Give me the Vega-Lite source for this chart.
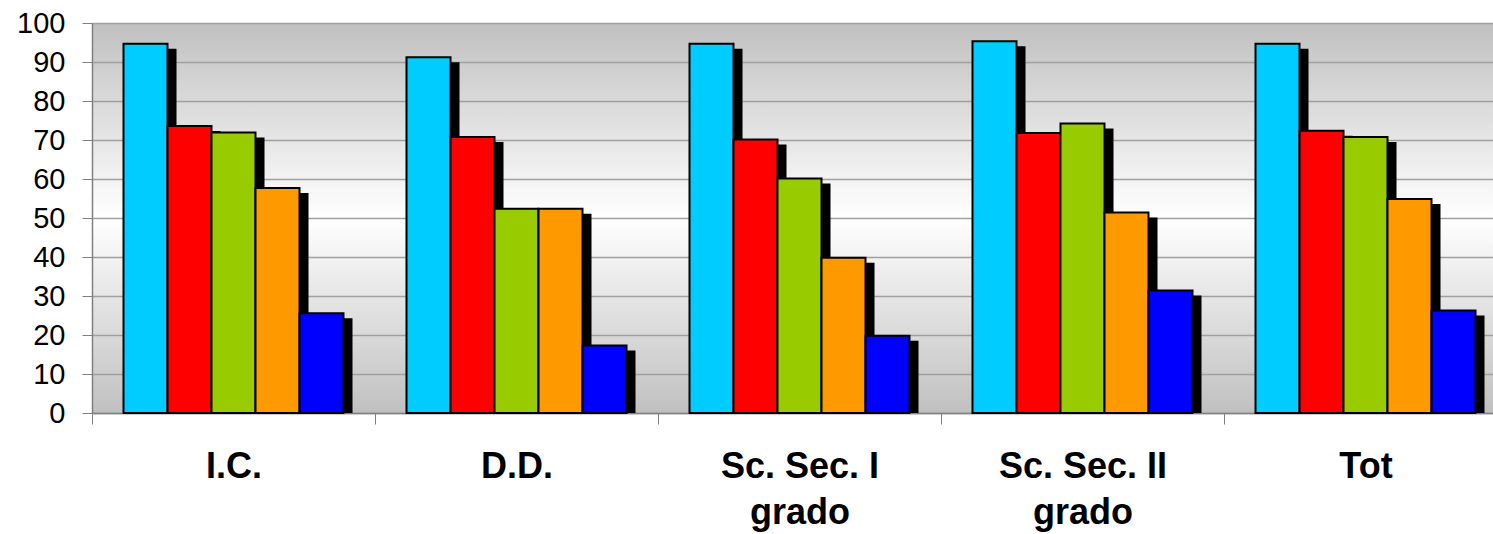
{
  "$schema": "https://vega.github.io/schema/vega-lite/v6.json",
  "autosize": "none",
  "padding": {"left": 92, "top": 23, "right": 0, "bottom": 121},
  "width": 1415,
  "height": 390,
  "background": "white",
  "config": {
    "font": "Liberation Sans",
    "view": {
      "stroke": null,
      "fill": {
        "gradient": "linear",
        "x1": 0, "y1": 0, "x2": 0, "y2": 1,
        "stops": [
          {"offset": 0, "color": "#c0c0c0"},
          {"offset": 0.5, "color": "#ffffff"},
          {"offset": 1, "color": "#c0c0c0"}
        ]
      }
    }
  },
  "data": {
    "values": [
      {"cat": "I.C.", "serie": "S1", "val": 94.7},
      {"cat": "I.C.", "serie": "S2", "val": 73.6},
      {"cat": "I.C.", "serie": "S3", "val": 71.9},
      {"cat": "I.C.", "serie": "S4", "val": 57.7},
      {"cat": "I.C.", "serie": "S5", "val": 25.6},
      {"cat": "D.D.", "serie": "S1", "val": 91.2},
      {"cat": "D.D.", "serie": "S2", "val": 70.8},
      {"cat": "D.D.", "serie": "S3", "val": 52.4},
      {"cat": "D.D.", "serie": "S4", "val": 52.4},
      {"cat": "D.D.", "serie": "S5", "val": 17.3},
      {"cat": "Sc. Sec. I grado", "serie": "S1", "val": 94.7},
      {"cat": "Sc. Sec. I grado", "serie": "S2", "val": 70.1},
      {"cat": "Sc. Sec. I grado", "serie": "S3", "val": 60.1},
      {"cat": "Sc. Sec. I grado", "serie": "S4", "val": 39.8},
      {"cat": "Sc. Sec. I grado", "serie": "S5", "val": 19.8},
      {"cat": "Sc. Sec. II grado", "serie": "S1", "val": 95.3},
      {"cat": "Sc. Sec. II grado", "serie": "S2", "val": 71.8},
      {"cat": "Sc. Sec. II grado", "serie": "S3", "val": 74.2},
      {"cat": "Sc. Sec. II grado", "serie": "S4", "val": 51.4},
      {"cat": "Sc. Sec. II grado", "serie": "S5", "val": 31.4},
      {"cat": "Tot", "serie": "S1", "val": 94.7},
      {"cat": "Tot", "serie": "S2", "val": 72.4},
      {"cat": "Tot", "serie": "S3", "val": 70.8},
      {"cat": "Tot", "serie": "S4", "val": 54.9},
      {"cat": "Tot", "serie": "S5", "val": 26.3}
    ]
  },
  "encoding": {
    "x": {
      "field": "cat",
      "type": "nominal",
      "sort": null,
      "scale": {"paddingInner": 0, "paddingOuter": 0},
      "axis": {
        "title": null,
        "labelAngle": 0,
        "tickBand": "extent",
        "tickSize": 11,
        "tickColor": "#808080",
        "domainColor": "#808080",
        "domainWidth": 1.5,
        "labelFont": "Liberation Sans",
        "labelFontSize": 36,
        "labelFontWeight": "bold",
        "labelColor": "black",
        "labelPadding": 25,
        "labelLineHeight": 46,
        "labelExpr": "indexof(datum.label, ' grado') > 0 ? [replace(datum.label, ' grado', ''), 'grado'] : datum.label"
      }
    },
    "y": {
      "field": "val",
      "type": "quantitative",
      "scale": {"domain": [0, 100], "nice": false},
      "axis": {
        "title": null,
        "values": [0, 10, 20, 30, 40, 50, 60, 70, 80, 90, 100],
        "grid": true,
        "gridColor": "#a0a0a0",
        "gridWidth": 1.5,
        "tickSize": 10,
        "tickColor": "#808080",
        "domainColor": "#808080",
        "domainWidth": 1.5,
        "labelFont": "Liberation Sans",
        "labelFontSize": 29,
        "labelColor": "black",
        "labelPadding": 17
      }
    }
  },
  "resolve": {"scale": {"xOffset": "independent"}},
  "layer": [
    {
      "mark": {"type": "bar", "color": "black", "yOffset": 5, "clip": true},
      "encoding": {
        "xOffset": {
          "field": "serie",
          "type": "nominal",
          "scale": {"paddingInner": 0, "paddingOuter": 0.716, "align": 0.643}
        }
      }
    },
    {
      "mark": {"type": "bar", "stroke": "black", "strokeWidth": 2},
      "encoding": {
        "xOffset": {
          "field": "serie",
          "type": "nominal",
          "scale": {"paddingInner": 0, "paddingOuter": 0.716}
        },
        "color": {
          "field": "serie",
          "type": "nominal",
          "scale": {"domain": ["S1", "S2", "S3", "S4", "S5"], "range": ["#00ccff", "#ff0000", "#99cc00", "#ff9900", "#0000ff"]},
          "legend": null
        }
      }
    }
  ]
}
